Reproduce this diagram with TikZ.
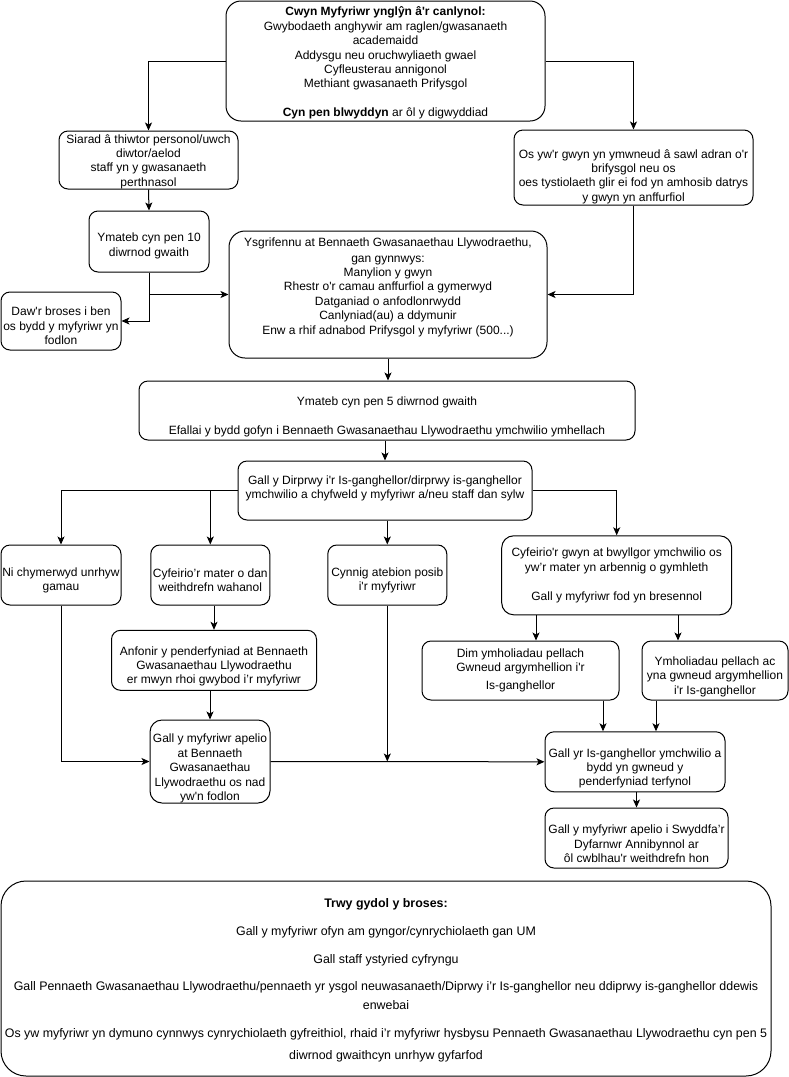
\documentclass[tikz,border=0pt]{standalone}
\usepackage{fontspec}
\setmainfont{Liberation Sans}[Ligatures=TeXOff]
\usetikzlibrary{arrows.meta}
\tikzset{
  box/.style={draw=black, line width=1pt, rounded corners=9pt, inner sep=0pt, fill=white},
  txt/.style={align=center, inner sep=0pt, font=\fontsize{12}{14.4}\selectfont},
  arr/.style={draw=black, line width=1pt, -{Stealth[length=8pt,width=7pt,inset=2pt]}},
  ln/.style={draw=black, line width=1pt},
}
\begin{document}
\begin{tikzpicture}[x=1pt,y=-1pt]
\useasboundingbox[fill=white] (0,0) rectangle (789,1077);

% boxes
\node[box, rounded corners=15pt, minimum width=319pt, minimum height=120pt] (top) at (385.5,61) {};
\node[txt] (top-t) at ([yshift=-2pt]top.center) {\textbf{Cwyn Myfyriwr ynglŷn â'r canlynol:}\\Gwybodaeth anghywir am raglen/gwasanaeth\\academaidd\\Addysgu neu oruchwyliaeth gwael\\Cyfleusterau annigonol\\Methiant gwasanaeth Prifysgol\\[14.4pt]\textbf{Cyn pen blwyddyn} ar ôl y digwyddiad};

\node[box, minimum width=179pt, minimum height=58pt] (siarad) at (148.5,160) {};
\node[txt] (siarad-t) at ([yshift=-1.5pt]siarad.center) {Siarad â thiwtor personol/uwch\\diwtor/aelod\\staff yn y gwasanaeth\\perthnasol};

\node[box, minimum width=239pt, minimum height=75pt] (osyw) at (633.5,167.5) {};
\node[txt] (osyw-t) at ([yshift=-9pt]osyw.center) {Os yw'r gwyn yn ymwneud â sawl adran o'r\\brifysgol neu os\\oes tystiolaeth glir ei fod yn amhosib datrys\\y gwyn yn anffurfiol};

\node[box, minimum width=120pt, minimum height=61pt] (ym10) at (149,241.5) {};
\node[txt] (ym10-t) at ([yshift=-4.5pt]ym10.center) {Ymateb cyn pen 10\\diwrnod gwaith};

\node[box, rounded corners=16pt, minimum width=318pt, minimum height=127pt] (ysgr) at (388,294.5) {};
\node[txt] (ysgr-t) at ([yshift=7.5pt]ysgr.center) {Ysgrifennu at Bennaeth Gwasanaethau Llywodraethu,\\[1.5pt]gan gynnwys:\\Manylion y gwyn\\Rhestr o'r camau anffurfiol a gymerwyd\\Datganiad o anfodlonrwydd\\Canlyniad(au) a ddymunir\\Enw a rhif adnabod Prifysgol y myfyriwr (500...)};

\node[box, minimum width=120pt, minimum height=58pt] (daw) at (61,321) {};
\node[txt] (daw-t) at ([yshift=-5pt]daw.center) {Daw'r broses i ben\\os bydd y myfyriwr yn\\fodlon};

\node[box, minimum width=496pt, minimum height=59pt] (ym5) at (387,410.5) {};
\node[txt] (ym5-t) at ([yshift=-6.5pt]ym5.center) {Ymateb cyn pen 5 diwrnod gwaith\\[14.4pt]Efallai y bydd gofyn i Bennaeth Gwasanaethau Llywodraethu ymchwilio ymhellach};

\node[box, minimum width=294pt, minimum height=59pt] (dirp) at (385,490.5) {};
\node[txt] (dirp-t) at ([yshift=2pt]dirp.center) {Gall y Dirprwy i'r Is-ganghellor/dirprwy is-ganghellor\\ymchwilio a chyfweld y myfyriwr a/neu staff dan sylw};

\node[box, minimum width=120pt, minimum height=60pt] (ni) at (61,575) {};
\node[txt] (ni-t) at ([yshift=-5.5pt]ni.center) {Ni chymerwyd unrhyw\\gamau};

\node[box, minimum width=119pt, minimum height=60pt] (cyfm) at (210.3,575) {};
\node[txt] (cyfm-t) at ([yshift=-5.5pt]cyfm.center) {Cyfeirio’r mater o dan\\weithdrefn wahanol};

\node[box, minimum width=119pt, minimum height=60pt] (cyn) at (387.3,575) {};
\node[txt] (cyn-t) at ([yshift=-5.5pt]cyn.center) {Cynnig atebion posib\\i'r myfyriwr};

\node[box, rounded corners=12pt, minimum width=230pt, minimum height=79pt] (cyfg) at (616.7,575.3) {};
\node[txt] (cyfg-t) at ([yshift=0pt]cyfg.center) {Cyfeirio'r gwyn at bwyllgor ymchwilio os\\yw’r mater yn arbennig o gymhleth\\[14.4pt]Gall y myfyriwr fod yn bresennol};

\node[box, minimum width=205pt, minimum height=60pt] (anf) at (214,660.3) {};
\node[txt] (anf-t) at ([yshift=-6pt]anf.center) {Anfonir y penderfyniad at Bennaeth\\Gwasanaethau Llywodraethu\\er mwyn rhoi gwybod i’r myfyriwr};

\node[box, minimum width=197pt, minimum height=59pt] (dim) at (520.5,670.5) {};
\node[txt] (dim-t) at ([yshift=0pt]dim.center) {Dim ymholiadau pellach\\Gwneud argymhellion i'r\\[3.6pt]Is-ganghellor};

\node[box, minimum width=146pt, minimum height=59pt] (ymh) at (715,670.5) {};
\node[txt] (ymh-t) at ([yshift=-6pt]ymh.center) {Ymholiadau pellach ac\\yna gwneud argymhellion\\i'r Is-ganghellor};

\node[box, rounded corners=12pt, minimum width=120pt, minimum height=83pt] (apel) at (210,761.5) {};
\node[txt] (apel-t) at ([yshift=-7pt]apel.center) {Gall y myfyriwr apelio\\at Bennaeth\\Gwasanaethau\\Llywodraethu os nad\\yw'n fodlon};

\node[box, minimum width=180pt, minimum height=60pt] (isg) at (635,761.8) {};
\node[txt] (isg-t) at ([yshift=-6.5pt]isg.center) {Gall yr Is-ganghellor ymchwilio a\\bydd yn gwneud y\\penderfyniad terfynol};

\node[box, minimum width=183pt, minimum height=60pt] (swy) at (636.5,838) {};
\node[txt] (swy-t) at ([yshift=-6pt]swy.center) {Gall y myfyriwr apelio i Swyddfa’r\\Dyfarnwr Annibynnol ar\\ôl cwblhau'r weithdrefn hon};

\node[box, rounded corners=25pt, minimum width=770pt, minimum height=195pt] (trwy) at (386,978.5) {};
\node[txt, font=\fontsize{12.4}{14.4}\selectfont] (trwy-t) at ([yshift=-1.5pt]trwy.center) {\textbf{Trwy gydol y broses:}\\[13.6pt]Gall y myfyriwr ofyn am gyngor/cynrychiolaeth gan UM\\[13.6pt]Gall staff ystyried cyfryngu\\[12.6pt]Gall Pennaeth Gwasanaethau Llywodraethu/pennaeth yr ysgol neuwasanaeth/Diprwy i’r Is-ganghellor neu ddiprwy is-ganghellor ddewis\\[4.6pt]enwebai\\[13.6pt]Os yw myfyriwr yn dymuno cynnwys cynrychiolaeth gyfreithiol, rhaid i’r myfyriwr hysbysu Pennaeth Gwasanaethau Llywodraethu cyn pen 5\\[7.6pt]diwrnod gwaithcyn unrhyw gyfarfod};

% connectors
\draw[arr] (top.west) -| (siarad.north);
\draw[arr] (top.east) -| (osyw.north);
\draw[arr] (siarad.south) -- (ym10.north);
\draw[arr] (ym10.south) |- (ysgr.west);
\draw[arr] (ym10.south) |- (daw.east);
\draw[arr] (osyw.south) |- (ysgr.east);
\draw[arr] (ysgr.south) -- (ym5.north -| ysgr.south);
\draw[arr] (dirp.north |- ym5.south) -- (dirp.north);
\draw[arr] (dirp.west) -| (ni.north);
\draw[arr] (cyfm.north |- dirp.west) -- (cyfm.north);
\draw[arr] (dirp.east) -| (cyfg.north);
\draw[arr] (cyn.north |- dirp.south) -- (cyn.north);
\draw[arr] (anf.north |- cyfm.south) -- (anf.north);
\draw[arr] (apel.north |- anf.south) -- (apel.north);
\draw[arr] (ni.south) |- (apel.west);
\draw[arr] (apel.east) -- (isg.west);
\draw[arr] (cyn.south) -- (cyn.south |- apel.east);
\draw[arr] (cyfg.south -| 536,0) -- (dim.north -| 536,0);
\draw[arr] (cyfg.south -| 678,0) -- (ymh.north -| 678,0);
\draw[arr] (dim.south -| 603,0) -- (isg.north -| 603,0);
\draw[arr] (ymh.south -| 656,0) -- (isg.north -| 656,0);
\draw[arr] (swy.north |- isg.south) -- (swy.north);
\end{tikzpicture}
\end{document}
